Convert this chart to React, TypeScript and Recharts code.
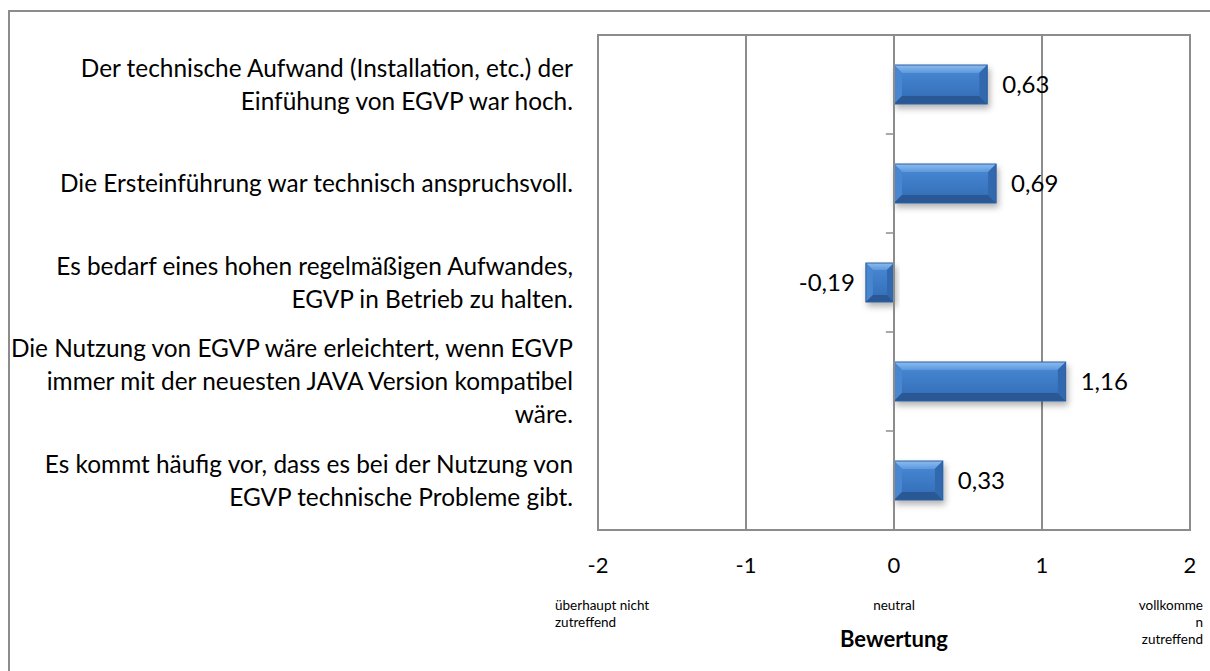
import { Bar, BarChart, CartesianGrid, LabelList, ReferenceArea, ReferenceLine, XAxis, YAxis } from "recharts";

const statements = [
  ["Der technische Aufwand (Installation, etc.) der", "Einfühung von EGVP war hoch."],
  ["Die Ersteinführung war technisch anspruchsvoll."],
  ["Es bedarf eines hohen regelmäßigen Aufwandes,", "EGVP in Betrieb zu halten."],
  ["Die Nutzung von EGVP wäre erleichtert, wenn EGVP", "immer mit der neuesten JAVA Version kompatibel", "wäre."],
  ["Es kommt häufig vor, dass es bei der Nutzung von", "EGVP technische Probleme gibt."]
];
const ratings = [0.63, 0.69, -0.19, 1.16, 0.33];
const xTicks = [-2, -1, 0, 1, 2];
const scaleTicks = [-2, 0, 2];
const scaleTexts = [["überhaupt nicht", "zutreffend"], ["neutral"], ["vollkomme", "n", "zutreffend"]];

const data = ratings.map((value, i) => ({ id: String(i), value }));

const FONT = "Lato, 'Open Sans', sans-serif";
const GRID = "#8c8c8c";

function StatementTick({ x, y, payload }: any) {
  const lines = statements[Number(payload.value)] ?? [];
  const lh = 33;
  const start = -((lines.length - 1) * lh) / 2;
  return (
    <text x={x - 25} y={y} textAnchor="end" fontFamily={FONT} fontSize={24.4} fill="#000">
      {lines.map((line, i) => (
        <tspan key={i} x={x - 25} y={y + start + i * lh} dy="0.35em">
          {line}
        </tspan>
      ))}
    </text>
  );
}

function RatingTick({ x, y, payload }: any) {
  const v = payload.value as number;
  const idx = scaleTicks.indexOf(v);
  const lines = idx >= 0 ? scaleTexts[idx] : [];
  const anchor = v < 0 ? "start" : v > 0 ? "end" : "middle";
  const tx = v < 0 ? x - 43 : v > 0 ? x + 13 : x;
  return (
    <g>
      <text x={x} y={y + 35} dy="0.35em" textAnchor="middle" fontFamily={FONT} fontSize={22} fill="#000">
        {v}
      </text>
      {lines.map((line, i) => (
        <text key={i} x={tx} y={y + 75 + i * 17} dy="0.35em" textAnchor={anchor} fontFamily={FONT} fontSize={13.5} fill="#000">
          {line}
        </text>
      ))}
    </g>
  );
}

function BevelBar({ x, y, width, height }: any) {
  const left = Math.min(x, x + width);
  const w = Math.abs(width);
  const h = height;
  const b = Math.min(8, w / 4, h / 4);
  const r = left + w;
  const bt = y + h;
  return (
    <g filter="url(#bar-shadow)">
      <rect x={left} y={y} width={w} height={h} fill="#3a77c2" />
      <polygon points={`${left},${y} ${r},${y} ${r - b},${y + b} ${left + b},${y + b}`} fill="url(#bevel-top)" />
      <polygon points={`${left},${y} ${left + b},${y + b} ${left + b},${bt - b} ${left},${bt}`} fill="#4a86d0" />
      <polygon points={`${r},${y} ${r},${bt} ${r - b},${bt - b} ${r - b},${y + b}`} fill="#3168ae" />
      <polygon points={`${left},${bt} ${left + b},${bt - b} ${r - b},${bt - b} ${r},${bt}`} fill="#2a5995" />
      <rect x={left + b} y={y + b} width={Math.max(0, w - 2 * b)} height={Math.max(0, h - 2 * b)} fill="url(#bar-face)" />
      <rect x={left} y={y} width={w} height={h} fill="none" stroke="#2d5f9f" strokeWidth={1} />
    </g>
  );
}

function ValueLabel({ x, y, width, height, value }: any) {
  const v = value as number;
  const end = v >= 0 ? x + Math.max(width, 0) + 15 : Math.min(x, x + width) - 11;
  return (
    <text x={end} y={y + height / 2} dy="0.35em" textAnchor={v >= 0 ? "start" : "end"} fontFamily={FONT} fontSize={24} fill="#000">
      {v.toFixed(2).replace(".", ",")}
    </text>
  );
}

export default function App() {
  return (
    <div style={{ position: "absolute", left: 0, top: 0, width: 1210, height: 671, background: "#fff", overflow: "hidden" }}>
      <div
        style={{
          position: "absolute",
          left: 8,
          top: 10,
          width: 1220,
          height: 700,
          borderLeft: `2px solid ${GRID}`,
          borderTop: `2px solid ${GRID}`
        }}
      />
      <div style={{ position: "absolute", left: 0, top: 0 }}>
        <BarChart
          width={1210}
          height={671}
          data={data}
          layout="vertical"
          barSize={39}
          margin={{ top: 35, right: 20, bottom: 0, left: 0 }}
        >
          <defs>
            <linearGradient id="bar-face" x1="0" y1="0" x2="0" y2="1">
              <stop offset="0%" stopColor="#4584d0" />
              <stop offset="100%" stopColor="#3671bb" />
            </linearGradient>
            <linearGradient id="bevel-top" x1="0" y1="0" x2="0" y2="1">
              <stop offset="0%" stopColor="#8cbcf0" />
              <stop offset="100%" stopColor="#5c98dc" />
            </linearGradient>
            <filter id="bar-shadow" x="-20%" y="-30%" width="140%" height="170%">
              <feDropShadow dx="2" dy="4" stdDeviation="3" floodColor="#000" floodOpacity="0.3" />
            </filter>
          </defs>
          <CartesianGrid horizontal={false} stroke={GRID} strokeWidth={2} />
          <XAxis
            type="number"
            domain={[-2, 2]}
            ticks={xTicks}
            axisLine={false}
            tickLine={false}
            tickSize={0}
            tickMargin={0}
            height={141}
            interval={0}
            tick={<RatingTick />}
            label={{
              value: "Bewertung",
              position: "insideBottom",
              offset: 24,
              fontFamily: FONT,
              fontSize: 22,
              fontWeight: 700,
              fill: "#000"
            }}
          />
          <YAxis
            type="category"
            dataKey="id"
            width={598}
            axisLine={false}
            tickLine={false}
            tickSize={0}
            tickMargin={0}
            interval={0}
            tick={<StatementTick />}
          />
          <ReferenceArea x1={-2} x2={2} fill="none" stroke={GRID} strokeWidth={2} />
          <ReferenceLine x={0} stroke={GRID} strokeWidth={2} />
          {data.map((d) => (
            <ReferenceLine
              key={d.id}
              position="end"
              segment={[
                { x: -0.055, y: d.id },
                { x: 0, y: d.id }
              ]}
              stroke={GRID}
              strokeWidth={1.5}
            />
          ))}
          <Bar dataKey="value" shape={<BevelBar />} isAnimationActive={false}>
            <LabelList dataKey="value" content={<ValueLabel />} />
          </Bar>
        </BarChart>
      </div>
    </div>
  );
}
